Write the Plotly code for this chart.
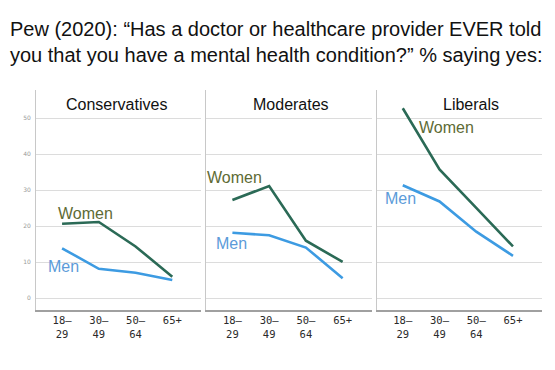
import plotly.graph_objects as go

groups = ["Conservatives", "Moderates", "Liberals"]
age_labels = ["18–<br>29", "30–<br>49", "50–<br>64", "65+<br> "]
women = {
    "Conservatives": [20.7, 21.2, 14.4, 6.0],
    "Moderates": [27.3, 31.2, 16.0, 10.1],
    "Liberals": [52.8, 35.8, 25.1, 14.4],
}
men = {
    "Conservatives": [13.9, 8.2, 7.1, 5.1],
    "Moderates": [18.2, 17.5, 14.1, 5.6],
    "Liberals": [31.4, 26.9, 18.5, 11.8],
}
y_ticks = [0, 10, 20, 30, 40, 50]

# label positions (data coords per panel): (x, y)
title_x = {"Conservatives": 1.48, "Moderates": 1.6, "Liberals": 1.87}
women_lbl = {"Conservatives": (0.63, 23.6), "Moderates": (0.07, 33.5), "Liberals": (1.19, 47.5)}
men_lbl = {"Conservatives": (0.05, 8.9), "Moderates": (-0.03, 15.3), "Liberals": (-0.05, 27.6)}

WOMEN_LINE = "#2b6a56"
MEN_LINE = "#3d9be2"
WOMEN_TXT = "#5e6b35"
MEN_TXT = "#5b9bd9"

xs = list(range(len(age_labels)))
fig = go.Figure()
domains = [[0, 0.3267], [0.3366, 0.6634], [0.6733, 1.0]]
XR = [-0.71, 3.79]
YR = [-3.25, 57.86]

for i, g in enumerate(groups):
    n = "" if i == 0 else str(i + 1)
    fig.add_trace(go.Scatter(x=xs, y=women[g], mode="lines", line=dict(color=WOMEN_LINE, width=2.6),
                             xaxis="x" + n, yaxis="y" + n, showlegend=False, hoverinfo="skip"))
    fig.add_trace(go.Scatter(x=xs, y=men[g], mode="lines", line=dict(color=MEN_LINE, width=2.6),
                             xaxis="x" + n, yaxis="y" + n, showlegend=False, hoverinfo="skip"))
    fig.layout["xaxis" + n] = dict(
        domain=domains[i], range=XR, anchor="y" + n, tickvals=xs, ticktext=age_labels,
        showgrid=False, zeroline=False, showline=True, linecolor="#a0a0a0", linewidth=1.5,
        ticks="", tickfont=dict(family="DejaVu Sans Mono", size=10.5, color="#2a2a2a"),
        automargin=False, fixedrange=True,
    )
    fig.layout["yaxis" + n] = dict(
        domain=[0, 1], range=YR, anchor="x" + n, tickvals=y_ticks,
        showticklabels=(i == 0), tickfont=dict(family="DejaVu Sans", size=6, color="#999"),
        showgrid=True, gridcolor="#dcdcdc", gridwidth=1, zeroline=False,
        showline=True, linecolor="#c8c8c8", linewidth=1, ticks="", ticklabelstandoff=3,
        automargin=False, fixedrange=True,
    )
    # panel title
    fig.add_annotation(text=g, xref="x" + n, yref="paper", x=title_x[g], y=1.0,
                       yanchor="top", yshift=-4, showarrow=False,
                       font=dict(family="Liberation Sans", size=16, color="#111"))
    wx, wy = women_lbl[g]
    mx, my = men_lbl[g]
    fig.add_annotation(text="Women", xref="x" + n, yref="y" + n, x=wx, y=wy, showarrow=False,
                       font=dict(family="Liberation Sans", size=16, color=WOMEN_TXT))
    fig.add_annotation(text="Men", xref="x" + n, yref="y" + n, x=mx, y=my, showarrow=False,
                       font=dict(family="Liberation Sans", size=16, color=MEN_TXT))

fig.add_annotation(
    text="Pew (2020): “Has a doctor or healthcare provider EVER told<br>you that you have a mental health condition?” % saying yes:",
    xref="paper", yref="paper", x=-0.055, xanchor="left", y=1.0, yanchor="top", yshift=74,
    showarrow=False, align="left", font=dict(family="Liberation Sans", size=20, color="#111"),
)

fig.update_layout(
    width=555, height=370, margin=dict(l=36, r=13, t=90, b=60, autoexpand=False),
    paper_bgcolor="white", plot_bgcolor="white", showlegend=False,
)
fig.write_html("out.html", config={"displayModeBar": False},
               post_script="document.body.style.margin='0';document.body.style.overflow='hidden';")
